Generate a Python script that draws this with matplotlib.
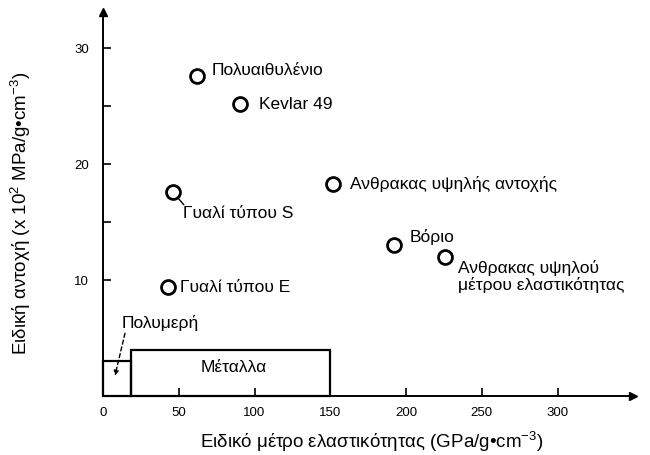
import matplotlib
matplotlib.use("Agg")
import matplotlib.pyplot as plt
from matplotlib.patches import Rectangle

plt.rcParams["font.family"] = ["Liberation Sans", "DejaVu Sans"]
plt.rcParams["mathtext.fontset"] = "custom"
plt.rcParams["mathtext.rm"] = "Liberation Sans"
plt.rcParams["mathtext.it"] = "Liberation Sans"

# fibres: specific modulus (GPa/g cm-3), specific strength (x10^2 MPa/g cm-3)
names = ["Πολυαιθυλένιο", "Kevlar 49", "Ανθρακας υψηλής αντοχής", "Γυαλί τύπου S",
         "Βόριο", "Ανθρακας υψηλού\nμέτρου ελαστικότητας", "Γυαλί τύπου E"]
modulus = [62.0, 90.4, 151.8, 46.0, 192.1, 225.7, 43.1]
strength = [27.6, 25.2, 18.3, 17.6, 13.0, 12.0, 9.4]
# label offsets in points (dx, dy, vertical alignment)
offsets = [(10.5, 4.8, "center"), (13.5, 0, "center"), (12, 0.7, "center"),
           (7.5, -14.8, "center"), (11.5, 6.8, "center"), (9.5, -1.5, "top"),
           (8.5, 0, "center")]

# material regions: (name, x0, x1, y top)
regions = [("Πολυμερή", 0, 18.3, 3.04), ("Μέταλλα", 18.3, 150, 4.0)]

xticks = [0, 50, 100, 150, 200, 250, 300]
yticks = [10, 15, 20, 25, 30]
ylabels = ["10", "", "20", "", "30"]

fig = plt.figure(figsize=(6.5, 4.56), dpi=100)
ax = fig.add_axes([103 / 650, 59 / 456, 530 / 650, 384 / 456])
ax.set_xlim(0, 349.8)
ax.set_ylim(0, 33.1)

for s in ("top", "right"):
    ax.spines[s].set_visible(False)
for s in ("left", "bottom"):
    ax.spines[s].set_linewidth(1.4)
ax.plot(1, 0, ">k", ms=6, transform=ax.transAxes, clip_on=False)
ax.plot(0, 1, "^k", ms=6, transform=ax.transAxes, clip_on=False)

ax.set_xticks(xticks)
ax.set_yticks(yticks)
ax.set_yticklabels(ylabels)
ax.tick_params(direction="in", length=6, width=1.2, labelsize=9.5, pad=7)
ax.tick_params(axis="y", pad=10)

ax.plot(modulus, strength, "o", ms=10, mfc="white", mec="black", mew=2, zorder=3)
for name, x, y, (dx, dy, va) in zip(names, modulus, strength, offsets):
    ax.annotate(name, (x, y), xytext=(dx, dy), textcoords="offset points",
                fontsize=12.5, va=va, ha="left", linespacing=1.05)
    if name == "Γυαλί τύπου S":
        # short leader from the marker towards the label
        ax.annotate("", (x, y), xytext=(dx + 0.5, dy + 5.5), textcoords="offset points",
                    arrowprops=dict(arrowstyle="-", lw=1, shrinkA=0, shrinkB=5))

for name, x0, x1, top in regions:
    ax.add_patch(Rectangle((x0, 0), x1 - x0, top, fill=False, ec="black", lw=1.6,
                           clip_on=False, zorder=2))

ax.text(86.0, 2.5, "Μέταλλα", fontsize=12.5, ha="center", va="center")
ax.text(12.3, 6.35, "Πολυμερή", fontsize=12.5, ha="left", va="center")
ax.annotate("", xy=(7.9, 1.75), xytext=(14.5, 5.4),
            arrowprops=dict(arrowstyle="-|>", lw=1, ls=(0, (3, 2)), color="black",
                            mutation_scale=7, shrinkA=0, shrinkB=0))

fig.text(372 / 650, 1 - 442 / 456, r"Ειδικό μέτρο ελαστικότητας (GPa/g•cm$^{-3}$)",
         fontsize=13.5, ha="center", va="center")
fig.text(21 / 650, 1 - 213 / 456, r"Ειδική αντοχή (x 10$^{2}$ MPa/g•cm$^{-3}$)",
         fontsize=13.5, ha="center", va="center", rotation=90)

fig.savefig("out.png", dpi=100)
